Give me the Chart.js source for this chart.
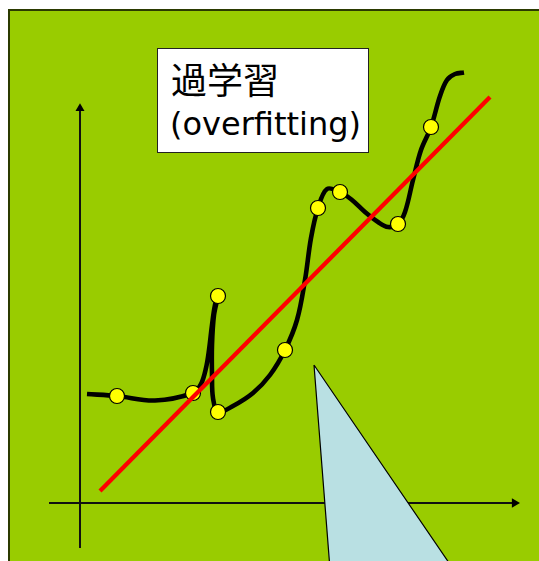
<!DOCTYPE html>
<html><head><meta charset="utf-8">
<script src="https://cdn.jsdelivr.net/npm/chart.js@4"></script>
<style>
html,body{margin:0;padding:0;background:#fff;width:539px;height:561px;overflow:hidden;}
#panel{position:absolute;left:8px;top:9px;width:600px;height:600px;background:#99cc00;border:2px solid #2b3a00;}
#wrap{position:absolute;left:0;top:0;width:539px;height:561px;}
#label{position:absolute;left:157px;top:48px;width:210px;height:103px;background:#fff;border:1px solid #222;}
#label .l1{position:absolute;left:13px;top:11px;font-family:"Noto Sans CJK JP";font-size:36px;line-height:36px;white-space:nowrap;color:#000;}
#label .l2{position:absolute;left:12px;top:55px;font-family:"DejaVu Sans";font-size:32px;line-height:40px;white-space:nowrap;color:#000;}
</style></head>
<body>
<div id="panel"></div>
<div id="wrap"><canvas id="c" width="539" height="561"></canvas></div>
<div id="label"><div class="l1" id="t1"></div><div class="l2" id="t2"></div></div>
<script>
// Text
const titleLines = ["過学習", "(overfitting)"];

// Overfitted curve (sampled path)
const curveX = [0.7, 3.7, 7.5, 11.3, 12.1, 12.6, 12.9, 13.2, 13.5, 13.8, 13.4, 13.2, 13.2, 13.3, 13.8,
                15.3, 17.3, 19.0, 20.5, 21.7, 22.5, 23.1, 23.8, 24.7, 26.0, 27.2, 28.5, 29.8, 30.8, 31.8,
                32.5, 33.3, 34.1, 35.1, 36.0, 36.7, 37.5, 38.4];
const curveY = [10.9, 10.7, 10.25, 11.0, 11.9, 13.5, 15.3, 17.8, 19.8, 20.7, 18.8, 15.8, 12.8, 10.5, 9.1,
                9.7, 11.0, 12.8, 15.3, 18.3, 22.3, 26.5, 29.5, 31.4, 31.1, 30.3, 29.1, 28.1, 27.6, 27.9,
                29.1, 32.3, 35.3, 37.6, 40.7, 42.3, 42.9, 43.05];

// Sample (training) points
const pointX = [3.7, 11.3, 13.8, 13.8, 20.5, 23.8, 26.0, 31.8, 35.1];
const pointY = [10.7, 11.0, 20.7, 9.1, 15.3, 29.5, 31.1, 27.9, 37.6];

// Straight fit line
const fitX = [2.0, 41.0];
const fitY = [1.2, 40.6];

// Callout triangle
const triX = [23.4, 25.4, 40.8, 23.4];
const triY = [13.8, -11.7, -11.7, 13.8];

// Axes
const xAxisX = [-3.1, 43.46];
const xAxisY = [0, 0];
const yAxisX = [0, 0];
const yAxisY = [-4.5, 39.46];

document.getElementById('t1').textContent = titleLines[0];
document.getElementById('t2').textContent = titleLines[1];

const zip = (xs, ys) => xs.map((x, i) => ({x: x, y: ys[i]}));

new Chart(document.getElementById('c'), {
  type: 'scatter',
  data: {
    datasets: [
      {
        data: zip(fitX, fitY), showLine: true, borderColor: '#ff0000', borderWidth: 4.3,
        pointRadius: 0, tension: 0, borderCapStyle: 'butt', clip: false
      },
      {
        data: zip(pointX, pointY), showLine: false, pointRadius: 7.5,
        pointBackgroundColor: '#ffff00', pointBorderColor: '#000', pointBorderWidth: 1.2, clip: false
      },
      {
        data: zip(curveX, curveY), showLine: true, borderColor: '#000', borderWidth: 4.6,
        pointRadius: 0, tension: 0.35, borderCapStyle: 'butt', borderJoinStyle: 'round', clip: false
      },
      {
        data: zip(triX, triY), showLine: true, borderColor: '#000', borderWidth: 1.2,
        backgroundColor: '#b9e0e3', fill: 'shape', pointRadius: 0, tension: 0,
        borderJoinStyle: 'miter', clip: false
      },
      {
        data: zip(xAxisX, xAxisY), showLine: true, borderColor: '#111', borderWidth: 2,
        pointRadius: [0, 5.4], pointStyle: 'triangle', rotation: 90,
        pointBackgroundColor: '#000', pointBorderWidth: 0, tension: 0, clip: false
      },
      {
        data: zip(yAxisX, yAxisY), showLine: true, borderColor: '#111', borderWidth: 2,
        pointRadius: [0, 5.2], pointStyle: 'triangle', rotation: 0,
        pointBackgroundColor: '#000', pointBorderWidth: 0, tension: 0, clip: false
      }
    ]
  },
  options: {
    responsive: false,
    devicePixelRatio: 1,
    animation: false,
    events: [],
    layout: { padding: 0, autoPadding: false },
    plugins: { legend: { display: false }, tooltip: { enabled: false }, title: { display: false } },
    scales: {
      x: { type: 'linear', display: false, min: -8.0, max: 45.9, bounds: 'data', grace: 0 },
      y: { type: 'linear', display: false, min: -5.8, max: 50.3, bounds: 'data', grace: 0 }
    }
  }
});
</script>
</body></html>
